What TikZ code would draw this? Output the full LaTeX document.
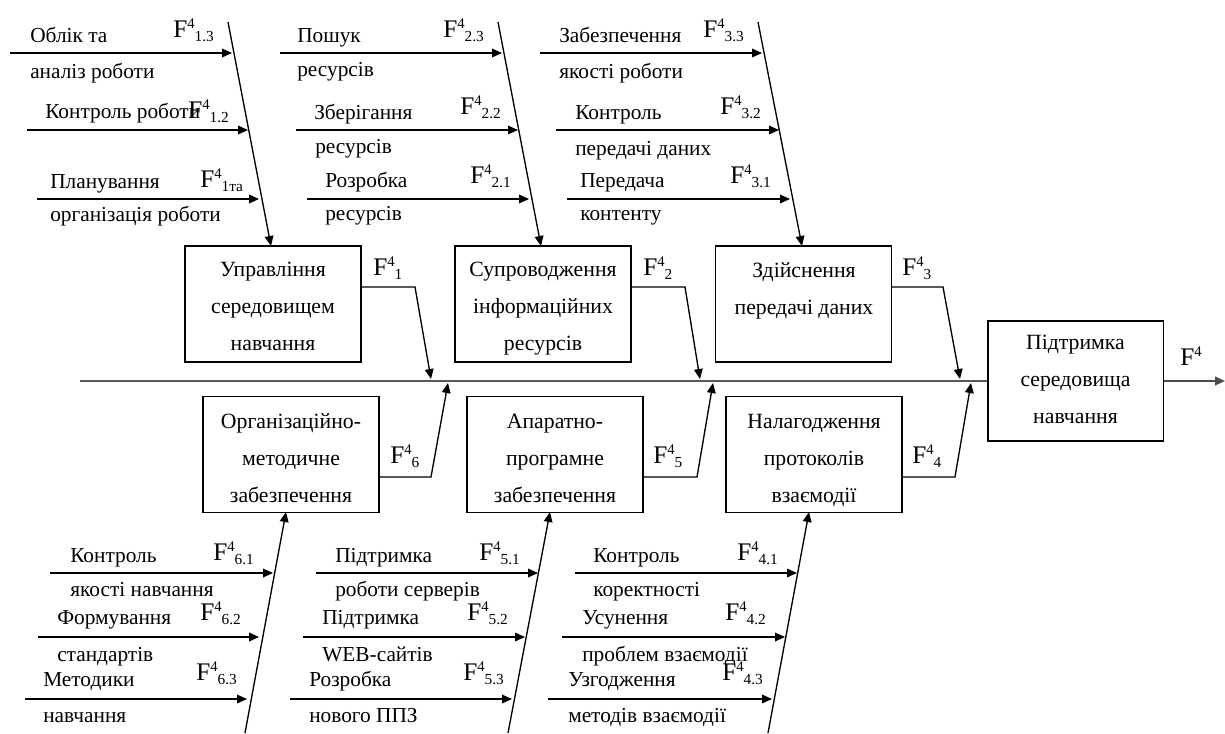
\documentclass[tikz,border=0pt]{standalone}
\usepackage{fontspec}
\setmainfont{Liberation Serif}
\usetikzlibrary{arrows.meta,calc}
\newcommand{\Flab}[1]{{\fontsize{19}{19}\selectfont F}\raisebox{6.5pt}{\fontsize{11}{11}\selectfont 4}\raisebox{-3.5pt}{\fontsize{11.5}{11}\selectfont #1}}
\newcommand{\Ftop}{{\fontsize{19}{19}\selectfont F}\raisebox{6.5pt}{\fontsize{11}{11}\selectfont 4}}
\tikzset{
  lbl/.style={anchor=base west,inner sep=0pt,font=\fontsize{16}{18}\selectfont},
  flbl/.style={anchor=base west,inner sep=0pt},
  box/.style={draw,line width=1pt,minimum width=132pt,minimum height=87pt,inner sep=0pt},
  boxtxt/.style={anchor=base,align=center,inner sep=0pt,font=\fontsize{16.3}{27.75}\selectfont},
  arr/.style={line width=1pt,-{Triangle[length=7.5pt,width=6.5pt]}},
  spine/.style={line width=2pt,draw=black!65},
}
\begin{document}
\begin{tikzpicture}[x=0.75pt,y=-0.75pt]
\useasboundingbox (0,0) rectangle (1225,733);
% boxes
\node[box] (b1) at (273,304) {};
\node[box] (b2) at (543,304) {};
\node[box] (b3) at (803.5,304) {};
\node[box] (b6) at (291,454.5) {};
\node[box] (b5) at (555,454.5) {};
\node[box] (b4) at (814,454.5) {};
\node[box,minimum width=131.5pt,minimum height=90pt] (b0) at (1075.5,381) {};
% box texts (anchor = baseline of last line)
\node[boxtxt] (b1t) at (273,350) {Управління\\середовищем\\навчання};
\node[boxtxt] (b2t) at (543,350) {Супроводження\\інформаційних\\ресурсів};
\node[boxtxt] (b3t) at (804,314) {Здійснення\\передачі даних};
\node[boxtxt] (b6t) at (291,502) {Організаційно-\\методичне\\забезпечення};
\node[boxtxt] (b5t) at (555,502) {Апаратно-\\програмне\\забезпечення};
\node[boxtxt] (b4t) at (814,502) {Налагодження\\протоколів\\взаємодії};
\node[boxtxt] (b0t) at (1075.5,423) {Підтримка\\середовища\\навчання};
% spine
\coordinate (s0) at (80,381);
\coordinate (se) at (1225,381);
\draw[spine] (s0) -- (b0.west);
\draw[line width=1.5pt,draw=black!70,-{Triangle[length=7.5pt,width=6.5pt]}] (b0.east) -- (se);
\node[flbl] (F0) at (1180,365) {\Ftop};
% box connectors
\coordinate (c1a) at (361,287); \coordinate (c1b) at (415,287); \coordinate (c1c) at (431,379);
\coordinate (c2a) at (631,287); \coordinate (c2b) at (685,287); \coordinate (c2c) at (700,379);
\coordinate (c3a) at (891,287); \coordinate (c3b) at (943,287); \coordinate (c3c) at (960,379);
\coordinate (c6a) at (379,477); \coordinate (c6b) at (431,477); \coordinate (c6c) at (448,383);
\coordinate (c5a) at (643,477); \coordinate (c5b) at (697,477); \coordinate (c5c) at (713,383);
\coordinate (c4a) at (902,477); \coordinate (c4b) at (955,477); \coordinate (c4c) at (971,383);
\foreach \i in {1,2,3,6,5,4}{\draw[arr] (c\i a) -- (c\i b) -- (c\i c);}
\node[flbl] (F1) at (373,275) {\Flab{1}};
\node[flbl] (F2) at (643,275) {\Flab{2}};
\node[flbl] (F3) at (902,275) {\Flab{3}};
\node[flbl] (F6) at (390,463) {\Flab{6}};
\node[flbl] (F5) at (653,463) {\Flab{5}};
\node[flbl] (F4) at (912,463) {\Flab{4}};
% top bones
\coordinate (t1) at (228,22); \coordinate (u1) at (271,246);
\coordinate (t2) at (498,22); \coordinate (u2) at (541,246);
\coordinate (t3) at (758,22); \coordinate (u3) at (802,246);
\draw[arr] (t1) -- (u1);
\draw[arr] (t2) -- (u2);
\draw[arr] (t3) -- (u3);
% bottom bones
\coordinate (d6) at (245,733); \coordinate (v6) at (286,512);
\coordinate (d5) at (508,733); \coordinate (v5) at (550,512);
\coordinate (d4) at (768,733); \coordinate (v4) at (809,512);
\draw[arr] (d6) -- (v6);
\draw[arr] (d5) -- (v5);
\draw[arr] (d4) -- (v4);
% top group 1
\coordinate (a13) at (10,53);  \coordinate (e13) at (232,53);
\coordinate (a12) at (27,130); \coordinate (e12) at (248,130);
\coordinate (a11) at (37,199); \coordinate (e11) at (259,199);
% top group 2
\coordinate (a23) at (280,53);  \coordinate (e23) at (502,53);
\coordinate (a22) at (296,130); \coordinate (e22) at (518,130);
\coordinate (a21) at (307,199); \coordinate (e21) at (529,199);
% top group 3
\coordinate (a33) at (540,53);  \coordinate (e33) at (762,53);
\coordinate (a32) at (556,130); \coordinate (e32) at (779,130);
\coordinate (a31) at (567,199); \coordinate (e31) at (790,199);
% bottom group 6
\coordinate (a61) at (50,573); \coordinate (e61) at (273,573);
\coordinate (a62) at (38,637); \coordinate (e62) at (259,637);
\coordinate (a63) at (25,699); \coordinate (e63) at (247,699);
% bottom group 5
\coordinate (a51) at (316,573); \coordinate (e51) at (538,573);
\coordinate (a52) at (303,637); \coordinate (e52) at (525,637);
\coordinate (a53) at (290,699); \coordinate (e53) at (512,699);
% bottom group 4
\coordinate (a41) at (575,573); \coordinate (e41) at (797,573);
\coordinate (a42) at (562,637); \coordinate (e42) at (785,637);
\coordinate (a43) at (548,699); \coordinate (e43) at (772,699);
\foreach \k in {13,12,11,23,22,21,33,32,31,61,62,63,51,52,53,41,42,43}{\draw[arr] (a\k) -- (e\k);}
% labels group 1
\node[lbl] (l13a) at (30,42) {Облік та};
\node[lbl] (l13b) at (30,78) {аналіз роботи};
\node[flbl] (f13) at (173,37) {\Flab{1.3}};
\node[lbl] (l12a) at (45,118) {Контроль роботи};
\node[flbl] (f12) at (188,118) {\Flab{1.2}};
\node[lbl] (l11a) at (50,188) {Планування};
\node[lbl] (l11b) at (50,221) {організація роботи};
\node[flbl] (f11) at (200,187) {\Flab{1та}};
% labels group 2
\node[lbl] (l23a) at (297,42) {Пошук};
\node[lbl] (l23b) at (297,76) {ресурсів};
\node[flbl] (f23) at (443,37) {\Flab{2.3}};
\node[lbl] (l22a) at (314,119) {Зберігання};
\node[lbl] (l22b) at (315,153) {ресурсів};
\node[flbl] (f22) at (460,114) {\Flab{2.2}};
\node[lbl] (l21a) at (325,187) {Розробка};
\node[lbl] (l21b) at (325,220) {ресурсів};
\node[flbl] (f21) at (470,183) {\Flab{2.1}};
% labels group 3
\node[lbl] (l33a) at (559,42) {Забезпечення};
\node[lbl] (l33b) at (559,78) {якості роботи};
\node[flbl] (f33) at (703,37) {\Flab{3.3}};
\node[lbl] (l32a) at (575,119) {Контроль};
\node[lbl] (l32b) at (575,155) {передачі даних};
\node[flbl] (f32) at (720,114) {\Flab{3.2}};
\node[lbl] (l31a) at (580,187) {Передача};
\node[lbl] (l31b) at (580,220) {контенту};
\node[flbl] (f31) at (730,183) {\Flab{3.1}};
% labels group 6
\node[lbl] (l61a) at (70,562) {Контроль};
\node[lbl] (l61b) at (70,596) {якості навчання};
\node[flbl] (f61) at (213,560) {\Flab{6.1}};
\node[lbl] (l62a) at (57,624) {Формування};
\node[lbl] (l62b) at (57,661) {стандартів};
\node[flbl] (f62) at (200,620) {\Flab{6.2}};
\node[lbl] (l63a) at (43,686) {Методики};
\node[lbl] (l63b) at (43,722) {навчання};
\node[flbl] (f63) at (196,680) {\Flab{6.3}};
% labels group 5
\node[lbl] (l51a) at (335,562) {Підтримка};
\node[lbl] (l51b) at (335,596) {роботи серверів};
\node[flbl] (f51) at (479,560) {\Flab{5.1}};
\node[lbl] (l52a) at (322,624) {Підтримка};
\node[lbl] (l52b) at (322,661) {WEB-сайтів};
\node[flbl] (f52) at (467,620) {\Flab{5.2}};
\node[lbl] (l53a) at (309,686) {Розробка};
\node[lbl] (l53b) at (309,722) {нового ППЗ};
\node[flbl] (f53) at (463,680) {\Flab{5.3}};
% labels group 4
\node[lbl] (l41a) at (593,562) {Контроль};
\node[lbl] (l41b) at (593,596) {коректності};
\node[flbl] (f41) at (737,560) {\Flab{4.1}};
\node[lbl] (l42a) at (582,624) {Усунення};
\node[lbl] (l42b) at (582,661) {проблем взаємодії};
\node[flbl] (f42) at (725,620) {\Flab{4.2}};
\node[lbl] (l43a) at (568,686) {Узгодження};
\node[lbl] (l43b) at (568,722) {методів взаємодії};
\node[flbl] (f43) at (722,680) {\Flab{4.3}};
\end{tikzpicture}
\end{document}
